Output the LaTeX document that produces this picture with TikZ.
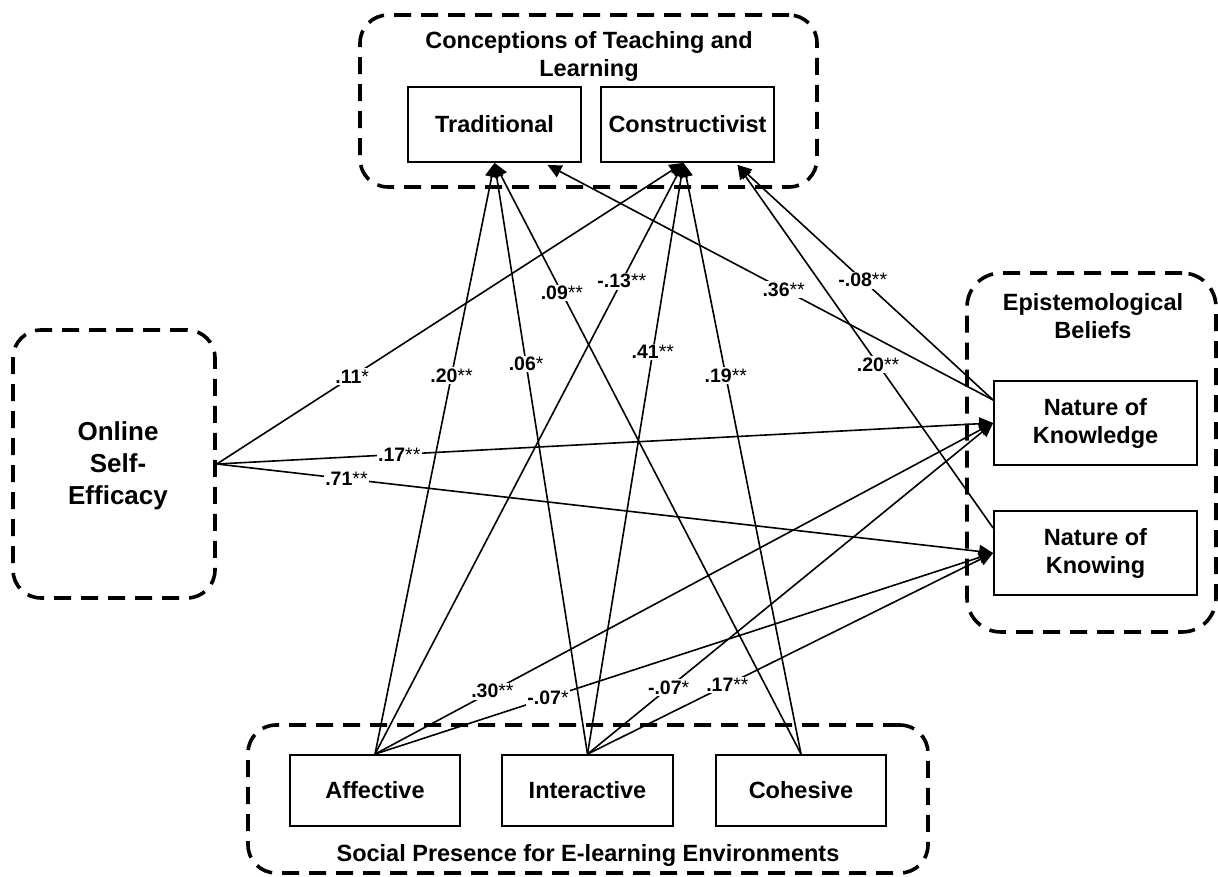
\documentclass[tikz,border=0pt]{standalone}
\usepackage{fontspec}
\setmainfont{Liberation Sans}
\usetikzlibrary{arrows.meta}
\begin{document}
\begin{tikzpicture}[x=1pt,y=-1pt,
  grp/.style={draw,line width=3.6pt,dash pattern=on 17pt off 10pt,rounded corners=28pt,inner sep=0pt},
  box/.style={draw,line width=1.8pt,minimum width=173pt,minimum height=75pt,inner sep=0pt,align=center,font=\fontsize{23.5}{28}\selectfont\bfseries},
  ttl/.style={align=center,inner sep=0pt,font=\fontsize{23.5}{28}\selectfont\bfseries},
  arr/.style={line width=1.6pt,-{Triangle[length=14pt,width=13pt]}},
  lab/.style={fill=white,inner sep=1.5pt,font=\fontsize{19.5}{22}\selectfont}]
\useasboundingbox (0,0) rectangle (1218,877);
% groups
\node[grp,minimum width=457pt,minimum height=172pt] (gtop) at (588.5,101) {};
\node[grp,minimum width=202pt,minimum height=268pt] (gose) at (114,464) {};
\node[grp,minimum width=249pt,minimum height=359pt,rounded corners=34pt] (gepi) at (1091.5,452.5) {};
\node[grp,minimum width=680pt,minimum height=148pt] (gsp) at (588,799) {};
% titles
\node[ttl] (ttop) at (589,56) {Conceptions of Teaching and\\Learning};
\node[ttl] (tepi) at (1093,316) {Epistemological\\Beliefs};
\node[ttl,font=\fontsize{26}{32}\selectfont\bfseries] (tose) at (118,466) {Online\\Self-\\Efficacy};
\node[ttl] (tsp) at (588,855) {Social Presence for E-learning Environments};
% boxes
\node[box] (trad) at (494.5,124.5) {Traditional};
\node[box] (constr) at (687.5,124.5) {Constructivist};
\node[box,minimum width=203pt,minimum height=84pt] (nok) at (1095.5,423) {Nature of\\Knowledge};
\node[box,minimum width=203pt,minimum height=84pt] (nokn) at (1095.5,553) {Nature of\\Knowing};
\node[box,minimum width=170pt,minimum height=71pt] (aff) at (375,790.5) {Affective};
\node[box,minimum width=171pt,minimum height=71pt] (int) at (587.5,790.5) {Interactive};
\node[box,minimum width=170pt,minimum height=71pt] (coh) at (801,790.5) {Cohesive};
% anchor points
\coordinate (tradIn) at ([xshift=0pt]trad.south);
\coordinate (tradIn2) at ([xshift=53pt,yshift=-2pt]trad.south);
\coordinate (conIn) at ([xshift=-4pt]constr.south);
\coordinate (conIn2) at ([xshift=50pt,yshift=-2pt]constr.south);
\coordinate (nokOut) at ([yshift=23pt]nok.west);
\coordinate (noknOut) at ([yshift=25pt]nokn.west);
% arrows
\draw[arr] (gose.east) -- (conIn);
\draw[arr] (gose.east) -- (nok.west);
\draw[arr] (gose.east) -- (nokn.west);
\draw[arr] (aff.north) -- (tradIn);
\draw[arr] (aff.north) -- (conIn);
\draw[arr] (aff.north) -- (nok.west);
\draw[arr] (aff.north) -- (nokn.west);
\draw[arr] (int.north) -- (tradIn);
\draw[arr] (int.north) -- (conIn);
\draw[arr] (int.north) -- (nok.west);
\draw[arr] (int.north) -- (nokn.west);
\draw[arr] (coh.north) -- (tradIn);
\draw[arr] (coh.north) -- (conIn);
\draw[arr] (nokOut) -- (tradIn2);
\draw[arr] (nokOut) -- (conIn2);
\draw[arr] (noknOut) -- (conIn2);
% labels
\path (gose.east) -- (conIn) node[lab,pos=0.29] {\textbf{.11}*};
\path (gose.east) -- (nok.west) node[lab,pos=0.235] {\textbf{.17}**};
\path (gose.east) -- (nokn.west) node[lab,pos=0.167] {\textbf{.71}**};
\path (aff.north) -- (tradIn) node[lab,pos=0.64] {\textbf{.20}**};
\path (aff.north) -- (conIn) node[lab,pos=0.80] {\textbf{-.13}**};
\path (aff.north) -- (nok.west) node[lab,pos=0.19] {\textbf{.30}**};
\path (aff.north) -- (nokn.west) node[lab,pos=0.28] {\textbf{-.07}*};
\path (int.north) -- (tradIn) node[lab,pos=0.66] {\textbf{.06}*};
\path (int.north) -- (conIn) node[lab,pos=0.68] {\textbf{.41}**};
\path (int.north) -- (nok.west) node[lab,pos=0.20] {\textbf{-.07}*};
\path (int.north) -- (nokn.west) node[lab,pos=0.345] {\textbf{.17}**};
\path (coh.north) -- (tradIn) node[lab,pos=0.78] {\textbf{.09}**};
\path (coh.north) -- (conIn) node[lab,pos=0.64] {\textbf{.19}**};
\path (nokOut) -- (tradIn2) node[lab,pos=0.47] {\textbf{.36}**};
\path (nokOut) -- (conIn2) node[lab,pos=0.51] {\textbf{-.08}**};
\path (noknOut) -- (conIn2) node[lab,pos=0.45] {\textbf{.20}**};
\end{tikzpicture}
\end{document}
